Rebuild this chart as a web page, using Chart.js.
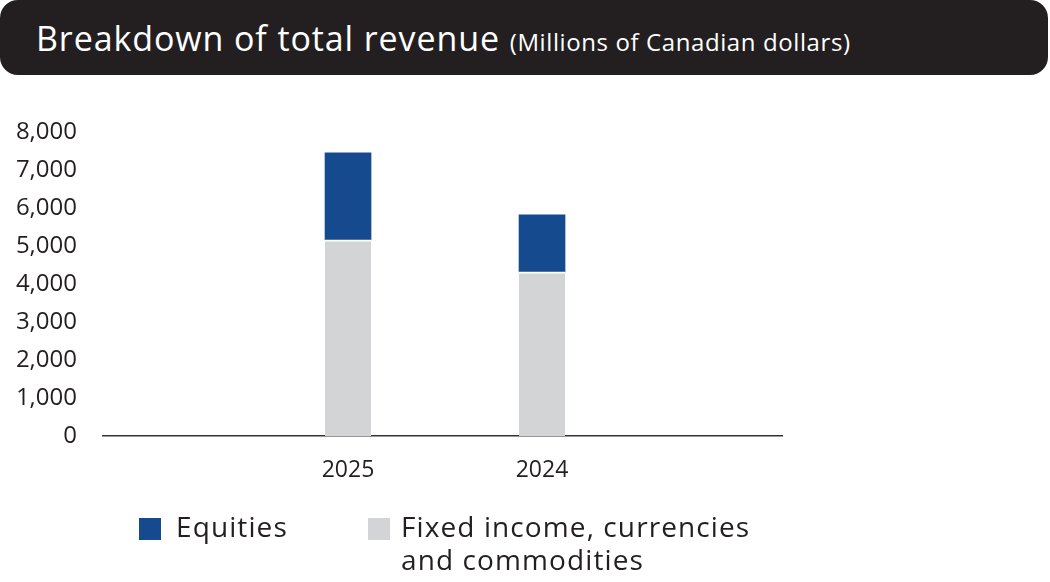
<!DOCTYPE html>
<html>
<head>
<meta charset="utf-8">
<script src="https://cdn.jsdelivr.net/npm/chart.js@4/dist/chart.umd.min.js"></script>
<style>
  body { margin: 0; width: 1050px; height: 582px; background: #fff; font-family: 'Open Sans', sans-serif; position: relative; overflow: hidden; }
  #head { position: absolute; left: 0; top: 0; width: 1048px; height: 75px; background: #231f20; border-radius: 18px; color: #fff; }
  #head .t { position: absolute; left: 36px; top: 15px; font-size: 34px; letter-spacing: 0.9px; white-space: nowrap; }
  #head .t small { font-size: 24px; letter-spacing: 0.6px; }
  canvas { position: absolute; left: 0; top: 0; }
  .lg { position: absolute; font-size: 28px; letter-spacing: 1.1px; color: #231f20; line-height: 33px; }
  .sw { position: absolute; width: 22px; height: 22px; }
</style>
</head>
<body>
<div id="head"><div class="t">Breakdown of total revenue <small>(Millions of Canadian dollars)</small></div></div>
<canvas id="c" width="1050" height="582"></canvas>
<div class="sw" style="left:139px;top:518px;background:#164a8e"></div>
<div class="lg" style="left:176px;top:510px">Equities</div>
<div class="sw" style="left:368px;top:518px;background:#d3d4d6"></div>
<div class="lg" style="left:401px;top:510px">Fixed income, currencies<br>and commodities</div>
<script>
// ── Data ──
const years = ['2025', '2024'];
const fixedIncome = [5160, 4320];
const equities = [2290, 1500];
const yTicks = [0, 1000, 2000, 3000, 4000, 5000, 6000, 7000, 8000];

const pos = years.map((y, i) => i + 1);

new Chart(document.getElementById('c'), {
  type: 'bar',
  data: {
    datasets: [
      {
        label: 'Fixed income, currencies and commodities',
        data: pos.map((x, i) => ({ x, y: fixedIncome[i] })),
        backgroundColor: '#d3d4d6',
        borderColor: '#fff',
        borderWidth: { top: 2 },
        borderSkipped: false,
        barThickness: 46,
      },
      {
        label: 'Equities',
        data: pos.map((x, i) => ({ x, y: equities[i] })),
        backgroundColor: '#164a8e',
        borderWidth: 0,
        barThickness: 46,
      }
    ]
  },
  options: {
    responsive: false,
    animation: false,
    layout: { padding: { left: 0, right: 268, top: 132, bottom: 96 } },
    plugins: { legend: { display: false }, tooltip: { enabled: false } },
    scales: {
      x: {
        type: 'linear', stacked: true, min: -0.263, max: 3.237, offset: false,
        grid: { display: false },
        border: { display: true, color: '#333', width: 1.5 },
        afterBuildTicks: s => { s.ticks = pos.map(v => ({ value: v })); },
        afterFit: s => { s.height = 50; },
        ticks: {
          color: '#231f20', padding: 13,
          font: { size: 23, family: "'Open Sans', sans-serif" },
          callback: v => years[v - 1] || ''
        }
      },
      y: {
        stacked: true, min: 0, max: 8000,
        grid: { display: false },
        border: { display: false },
        afterBuildTicks: s => { s.ticks = yTicks.map(v => ({ value: v })); },
        afterFit: s => { s.width = 103; },
        ticks: {
          color: '#231f20', padding: 18,
          font: { size: 24, family: "'Open Sans', sans-serif" },
          callback: v => v.toLocaleString('en-US')
        }
      }
    }
  }
});
</script>
</body>
</html>
